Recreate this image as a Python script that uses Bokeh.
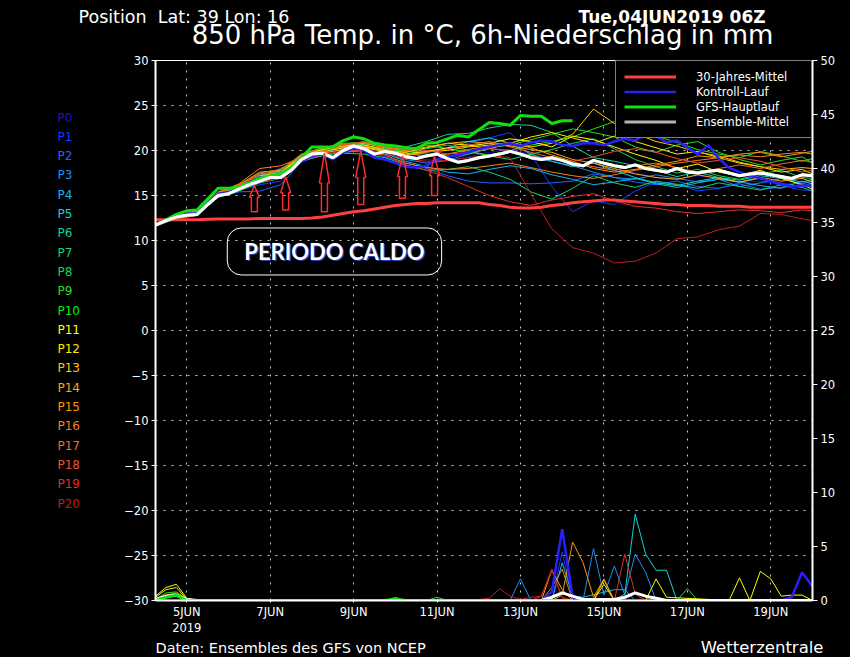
import numpy as np
from bokeh.plotting import figure
from bokeh.layouts import column, row
from bokeh.models import Range1d, LinearAxis, FixedTicker, Label, Legend, LegendItem
from bokeh.core.properties import value
from bokeh.embed import file_html
from bokeh.resources import INLINE

FONT = "DejaVu Sans"

# ---------------- axis ticks / labels ----------------
date_ticks = [5, 7, 9, 11, 13, 15, 17, 19]
date_labels = ["5JUN\n2019", "7JUN", "9JUN", "11JUN", "13JUN", "15JUN", "17JUN", "19JUN"]
temp_ticks = list(range(-30, 31, 5))
precip_ticks = list(range(0, 51, 5))

# time axes: days of June 2019, from 04JUN 06Z
t6 = 4.25 + 0.25 * np.arange(64)
t12 = np.append(4.25 + 0.5 * np.arange(32), 20.0)

# ---------------- 850 hPa temperature (degC) ----------------
clim = [12.3,12.3,12.3,12.3,12.3,12.35,12.4,12.4,12.4,12.4,
        12.45,12.45,12.45,12.45,12.45,12.5,12.6,12.8,13.0,13.2,
        13.3,13.5,13.7,13.9,14.0,14.1,14.1,14.2,14.2,14.2,
        14.2,14.2,14.0,13.9,13.7,13.6,13.6,13.7,13.9,14.0,
        14.2,14.3,14.4,14.5,14.5,14.4,14.3,14.2,14.1,14.0,
        14.0,13.9,13.9,13.9,13.8,13.8,13.8,13.7,13.7,13.7,
        13.7,13.7,13.7,13.7]
ens_mean = [11.7,12.2,12.6,12.8,12.9,14.0,15.0,15.2,15.7,16.2,
            16.6,17.0,17.0,17.8,19.0,19.6,19.7,19.2,20.0,20.5,
            20.2,19.6,19.9,19.7,19.3,19.1,19.4,19.6,19.1,18.7,
            18.9,19.2,19.4,19.6,19.9,19.6,19.2,19.0,19.2,18.9,
            18.5,18.3,18.9,18.6,18.3,18.1,18.4,18.0,17.8,17.6,
            18.0,17.6,17.5,17.7,17.8,17.5,17.2,17.4,17.5,17.3,
            17.1,16.9,17.3,17.2]
control = [11.8,12.3,12.7,13.0,13.0,14.2,15.2,15.4,15.8,16.5,
           17.0,16.9,17.4,17.8,18.8,19.4,19.6,19.0,19.8,20.3,
           20.0,19.2,19.0,18.6,18.2,18.1,18.3,19.0,19.3,19.5,
           19.8,20.2,20.4,20.6,20.8,20.5,20.9,21.1,21.0,20.6,
           20.5,20.8,20.8,20.6,21.0,21.3,21.1,21.9,21.6,20.9,
           21.1,20.3,19.6,20.6,19.1,18.1,17.6,17.2,16.9,16.6,
           16.3,16.0,16.1,16.1]
gfs_main = [11.7,12.3,12.9,13.3,13.4,14.6,15.8,15.8,15.9,16.4,
            16.9,17.2,17.4,18.1,19.2,20.4,20.4,20.4,21.1,21.5,
            21.3,20.8,20.6,20.5,20.3,20.2,20.8,20.9,21.3,21.7,
            21.5,22.3,23.1,23.0,22.8,23.9,23.8,23.8,23.0,23.3,
            23.3]

# ensemble members P0..P20, 12-hourly
p00 = [11.8,12.5,12.8,15.0,15.8,16.7,17.2,19.1,19.8,20.2,20.3,19.6,19.2,19.0,18.8,19.3,19.8,20.1,19.6,19.0,18.6,18.2,17.8,17.5,17.0,16.8,17.2,16.9,16.4,16.6,16.2,16.5,16.6]
p01 = [11.6,12.7,13.0,15.1,15.6,16.2,16.6,19.0,19.5,19.9,20.4,19.8,19.3,19.5,20.1,20.8,21.4,22.0,19.5,16.0,13.2,14.4,14.0,15.5,16.5,16.3,15.5,15.8,16.4,17.0,16.1,15.6,15.6]
p02 = [11.7,12.5,12.8,14.8,15.4,15.5,16.2,18.7,19.6,19.8,20.0,19.3,18.6,18.0,17.2,16.6,16.4,16.4,16.3,16.4,16.6,17.4,17.0,16.5,16.2,16.6,16.0,15.8,16.3,15.7,15.9,16.2,16.0]
p03 = [11.6,12.6,13.0,15.1,15.9,17.3,17.6,19.2,19.6,19.8,20.0,19.6,19.0,18.6,18.9,19.6,20.2,20.0,19.2,18.8,18.3,17.6,17.0,16.8,17.3,16.9,16.5,16.8,16.0,16.4,16.9,16.3,16.6]
p04 = [11.8,12.6,12.9,14.9,15.6,16.9,17.8,18.9,19.4,19.9,20.1,19.7,18.8,18.2,17.6,17.4,17.9,18.3,18.0,17.3,16.8,16.2,16.5,16.9,16.3,15.9,16.4,16.8,16.5,16.1,15.8,16.6,16.3]
p05 = [11.7,12.6,13.1,15.2,15.8,17.0,18.0,19.1,19.6,20.1,20.4,19.9,19.4,19.8,20.3,21.0,21.4,20.8,19.6,18.8,18.2,18.6,17.8,17.0,16.4,16.1,16.6,17.0,16.7,17.2,16.9,16.5,16.8]
p06 = [11.7,12.5,12.9,15.1,15.8,16.8,17.3,19.3,20.1,20.5,20.7,20.6,20.4,21.0,21.8,21.9,22.5,22.9,22.8,22.0,20.5,19.2,18.8,18.3,17.8,17.1,17.6,17.0,16.5,16.9,16.3,16.0,16.4]
p07 = [11.6,12.4,12.8,14.8,15.5,16.4,16.9,18.8,19.5,19.7,19.6,19.2,18.4,17.8,17.9,18.2,17.6,16.8,15.4,14.6,15.8,17.2,16.4,15.9,16.6,16.2,15.8,16.4,16.0,15.6,16.2,15.9,15.5]
p08 = [11.8,12.7,13.0,15.2,16.0,17.1,17.4,19.4,20.0,20.4,20.3,20.0,19.8,20.2,20.6,20.0,19.4,19.0,19.6,20.1,20.8,21.3,20.2,19.0,18.2,17.5,17.9,17.2,16.8,17.4,17.8,17.0,16.9]
p09 = [11.7,12.6,12.9,15.0,15.7,16.7,17.0,19.1,19.8,20.3,20.6,20.2,19.9,19.6,19.4,19.6,20.3,20.6,21.2,21.8,22.4,22.0,21.5,20.4,19.8,20.6,21.0,19.8,19.0,18.4,18.9,19.3,18.6]
p10 = [11.8,12.7,13.1,15.2,15.9,16.9,17.4,19.5,20.2,20.8,20.9,20.4,20.1,20.6,20.2,19.8,19.5,20.0,20.6,21.0,21.5,22.4,23.2,22.0,21.6,20.9,20.1,19.6,19.2,19.9,19.4,18.8,19.1]
p11 = [11.9,12.8,13.2,15.3,16.0,17.0,17.5,19.4,20.1,20.5,20.6,20.1,19.6,19.9,20.3,20.5,20.8,21.3,21.0,20.4,21.6,21.2,20.4,19.6,18.9,18.0,18.5,17.6,17.2,17.8,16.9,16.2,15.7]
p12 = [11.8,12.7,13.0,15.1,15.9,16.9,17.3,19.3,19.9,20.3,20.4,20.0,19.8,20.3,20.8,20.6,20.2,20.8,21.5,22.0,21.4,20.8,21.6,21.0,20.3,19.6,19.9,19.2,18.6,18.2,17.6,17.9,17.4]
p13 = [11.7,12.6,12.9,15.0,15.8,17.2,17.5,19.0,19.7,20.1,20.3,19.9,19.5,19.9,20.0,20.4,20.6,20.9,20.4,20.8,21.8,24.6,23.0,21.9,21.0,20.5,19.8,19.4,18.7,18.2,17.9,18.1,18.0]
p14 = [11.9,12.8,13.3,15.4,16.2,17.6,17.8,19.6,20.3,20.6,20.8,20.3,20.0,20.4,20.8,21.0,20.8,20.5,20.1,19.8,19.0,18.6,18.0,17.4,17.0,16.8,17.3,16.9,16.5,17.0,16.6,16.9,16.5]
p15 = [11.8,12.7,13.1,15.3,16.0,17.4,17.7,19.4,20.0,20.4,20.5,20.1,19.7,19.4,19.6,20.1,20.5,20.9,20.3,19.5,18.8,18.0,17.6,17.9,18.4,18.8,19.4,19.2,19.6,19.8,19.3,19.7,19.9]
p16 = [11.7,12.5,12.8,15.3,16.3,18.0,18.3,19.2,19.6,19.9,20.0,19.5,18.6,18.1,17.9,18.0,18.3,18.6,18.1,17.6,17.2,16.9,17.3,17.8,18.2,18.6,18.9,19.2,19.5,19.3,19.6,19.8,19.6]
p17 = [11.8,12.6,13.0,15.2,16.1,17.5,17.9,19.5,20.3,20.7,20.9,20.4,20.0,19.8,20.2,20.6,21.0,20.4,19.8,19.2,18.6,18.2,17.8,18.3,18.6,18.1,17.6,18.0,18.4,18.0,18.5,18.9,18.7]
p18 = [11.7,12.6,12.9,15.0,15.7,16.8,17.2,19.2,19.9,20.6,21.0,20.5,20.2,20.0,19.6,19.8,20.2,20.0,19.4,19.0,18.8,19.3,19.9,20.2,19.8,19.1,18.6,18.9,19.2,18.8,18.2,17.6,17.8]
p19 = [11.6,12.5,12.8,14.9,15.6,16.6,17.0,18.9,19.5,19.9,20.1,19.5,18.4,17.8,17.0,16.0,15.0,14.3,13.9,14.5,14.9,15.2,14.4,13.8,13.6,13.2,13.0,13.2,13.4,13.3,13.1,13.4,13.3]
p20 = [11.7,12.6,12.9,15.0,15.6,16.5,16.9,19.0,19.6,20.0,20.2,19.7,19.1,18.8,18.9,19.2,19.5,19.2,15.2,11.3,9.2,8.6,7.5,7.7,8.6,10.2,10.4,11.2,11.6,13.0,12.9,12.4,12.2]
members = [p00, p01, p02, p03, p04, p05, p06, p07, p08, p09, p10,
           p11, p12, p13, p14, p15, p16, p17, p18, p19, p20]
member_names = ["P%d" % i for i in range(21)]
member_colors = ["#1a14d2", "#143cff", "#1e64ff", "#1e8cf0", "#14b4f0", "#14d2d2", "#14d296",
                 "#14d26e", "#1ed250", "#28dc28", "#14e614", "#ffff00", "#ffe600", "#ffc800",
                 "#ffaa00", "#ff9600", "#f5821e", "#eb6e28", "#f05032", "#dc3228", "#be1e1e"]

# ---------------- 6h precipitation (mm), non-zero episodes ----------------
rr_mean_t = [4.25, 4.5, 4.75, 5.0, 5.25, 13.5, 13.75, 14.0, 14.25, 14.5, 15.25, 15.5, 15.75, 16.0, 16.25, 16.5, 20.0]
rr_mean_v = [0.1, 0.4, 0.5, 0.1, 0.0, 0.0, 0.3, 0.7, 0.4, 0.1, 0.1, 0.3, 0.7, 0.4, 0.2, 0.0, 0.0]
rr_ctrl_t = [4.25, 13.5, 13.75, 14.0, 14.25, 14.5, 19.25, 19.5, 19.75, 20.0]
rr_ctrl_v = [0.0, 0.0, 0.8, 6.6, 0.3, 0.0, 0.0, 0.3, 2.6, 1.3]
rr_gfs_t = [4.25, 4.5, 4.75, 5.0, 9.75, 10.0, 10.25, 14.25]
rr_gfs_v = [0.0, 0.3, 0.5, 0.0, 0.0, 0.1, 0.0, 0.0]
rr_members = {
    1: ([13.75, 14.0, 14.25], [0.0, 4.5, 0.0]),
    3: ([12.75, 13.0, 13.25, 14.5, 14.75, 15.0, 15.25, 15.5, 15.75, 16.0, 16.25],
        [0.0, 2.0, 0.0, 0.0, 4.8, 0.5, 3.2, 0.5, 4.3, 2.6, 0.0]),
    4: ([13.75, 14.0, 14.25, 14.5, 15.25, 15.5, 15.75], [0.0, 3.5, 0.4, 0.3, 1.0, 1.0, 0.0]),
    5: ([15.25, 15.5, 15.75, 16.0, 16.25, 16.5, 16.75], [0.0, 0.6, 8.0, 4.3, 2.8, 2.8, 0.0]),
    8: ([16.75, 17.0, 17.25], [0.0, 1.1, 0.0]),
    9: ([4.25, 4.5, 4.75, 5.0, 9.75, 10.0, 10.25, 10.75, 11.0, 11.25],
        [0.1, 0.7, 0.8, 0.1, 0.0, 0.3, 0.0, 0.0, 0.3, 0.0]),
    11: ([4.25, 4.5, 4.75, 5.0, 5.25, 16.0, 16.25, 16.5, 18.0, 18.25, 18.5, 18.75, 19.0, 19.25, 19.5, 19.75, 20.0],
         [0.4, 1.2, 1.5, 0.2, 0.0, 0.0, 2.0, 0.3, 0.0, 2.1, 0.0, 2.7, 2.0, 0.4, 0.5, 0.5, 0.0]),
    12: ([4.25, 4.5, 4.75, 5.0, 5.25, 14.75, 15.0, 15.25], [0.3, 1.0, 1.2, 0.1, 0.0, 0.0, 1.5, 0.0]),
    13: ([14.75, 15.0, 15.25], [0.0, 1.9, 0.0]),
    14: ([13.5, 13.75, 14.0, 14.25], [0.0, 2.8, 1.0, 0.0]),
    15: ([4.25, 4.5, 4.75, 5.0, 13.75, 14.0, 14.25, 14.5, 14.75, 15.0, 15.25],
         [0.1, 0.5, 0.7, 0.0, 0.0, 0.5, 5.4, 3.5, 0.3, 2.0, 0.0]),
    16: ([13.5, 13.75, 14.0, 14.25], [0.0, 1.2, 2.9, 0.0]),
    18: ([4.25, 4.5, 4.75, 5.0], [0.1, 0.5, 0.5, 0.0]),
    19: ([13.25, 13.5, 13.75, 14.0, 14.25, 15.25, 15.5, 15.75, 16.0],
         [0.0, 0.4, 2.9, 0.3, 0.0, 0.0, 4.3, 0.6, 0.0]),
    20: ([4.25, 4.5, 4.75, 5.0, 11.75, 12.0, 12.25, 12.5, 12.75, 13.0, 13.25, 13.5, 13.75, 14.0, 14.25],
         [0.1, 0.4, 0.4, 0.0, 0.0, 0.1, 0.2, 1.1, 0.4, 0.1, 0.3, 0.4, 2.8, 0.2, 0.0]),
}

# ---------------- hand-drawn annotation arrows (day, degC) ----------------
arrow_x = [6.62, 7.37, 8.30, 9.17, 10.17, 10.94]
arrow_tip = [16.1, 17.1, 19.7, 20.0, 19.4, 19.4]
arrow_head = [14.8, 15.3, 16.4, 17.0, 17.1, 17.2]
arrow_base = [13.2, 13.4, 13.2, 14.0, 14.7, 15.0]

for s in members:
    assert len(s) == len(t12)
assert len(clim) == len(ens_mean) == len(control) == len(t6)

# ---------------- page geometry ----------------
W, H = 850, 657
TOP_H = 50            # title strip
LEFT_W = 120          # member-label strip
BOT_H = 19            # footer strip
MID_H = H - TOP_H - BOT_H
MAIN_W = W - LEFT_W
# main frame in page px: x 155..812, y 60..600


def strip(w, h, yr):
    f = figure(width=w, height=h, x_range=Range1d(0, w), y_range=yr,
               output_backend="svg", toolbar_location=None,
               x_axis_location=None, y_axis_location=None,
               background_fill_color="black", border_fill_color="black",
               min_border=0, outline_line_color=None)
    f.grid.visible = False
    return f

# ---------------- main figure ----------------
p = figure(width=MAIN_W, height=MID_H, x_range=Range1d(4.25, 20.0), y_range=Range1d(-30, 30),
           output_backend="svg", toolbar_location=None,
           background_fill_color="black", border_fill_color="black",
           min_border_left=155 - LEFT_W, min_border_right=W - 812,
           min_border_top=60 - TOP_H, min_border_bottom=(TOP_H + MID_H) - 600,
           outline_line_color="white", outline_line_width=1)
p.extra_y_ranges = {"rr": Range1d(0, 50)}

grid_col = "#c8c8c8"
p.xgrid.ticker = FixedTicker(ticks=date_ticks)
p.ygrid.ticker = FixedTicker(ticks=temp_ticks)
for g in (p.xgrid, p.ygrid):
    g.grid_line_color = grid_col
    g.grid_line_dash = "2 6"
    g.grid_line_width = 1

def style_axis(ax, tick_out, standoff=3):
    ax.axis_line_color = "white"
    ax.axis_line_width = 2
    ax.major_tick_line_color = "white"
    ax.major_tick_out = tick_out
    ax.major_tick_in = 0
    ax.minor_tick_line_color = None
    ax.major_label_text_color = "white"
    ax.major_label_text_font = FONT
    ax.major_label_text_font_size = "11.5px"
    ax.major_label_standoff = standoff

xa = p.xaxis[0]
xa.ticker = FixedTicker(ticks=date_ticks)
xa.major_label_overrides = {t: l for t, l in zip(date_ticks, date_labels)}
style_axis(xa, 2, standoff=2)

ya = p.yaxis[0]
ya.ticker = FixedTicker(ticks=temp_ticks)
ya.major_label_overrides = {t: str(t).replace("-", "\u2212") for t in temp_ticks}
style_axis(ya, 4)

ra = LinearAxis(y_range_name="rr", ticker=FixedTicker(ticks=precip_ticks))
style_axis(ra, 5)
p.add_layout(ra, "right")

# ---------------- temperature lines ----------------
for s, c in zip(members, member_colors):
    p.line(t12, s, line_color=c, line_width=1)
r_clim = p.line(t6, clim, line_color="#ff4040", line_width=3)
r_ctrl = p.line(t6, control, line_color="#2a1eff", line_width=2.5)
r_gfs = p.line(t6[:len(gfs_main)], gfs_main, line_color="#10e010", line_width=3)
r_mean_key = p.line(t6, ens_mean, line_color="#b4b4b4", line_width=3)   # legend key (hidden below)
p.line(t6, ens_mean, line_color="white", line_width=3)

# ---------------- precipitation lines ----------------
for i, (tt, vv) in rr_members.items():
    p.line(tt, vv, line_color=member_colors[i], line_width=1, y_range_name="rr")
p.line(rr_ctrl_t, rr_ctrl_v, line_color="#2a1eff", line_width=2.5, y_range_name="rr")
p.line(rr_mean_t, rr_mean_v, line_color="white", line_width=3, y_range_name="rr")
p.line(rr_gfs_t, rr_gfs_v, line_color="#10e010", line_width=3, y_range_name="rr")

# ---------------- arrows ----------------
hs, hh = 0.072, 0.12
axs, ays = [], []
for x, tip, hd, b in zip(arrow_x, arrow_tip, arrow_head, arrow_base):
    axs.append([x - hs, x - hs, x - hh, x, x + hh, x + hs, x + hs])
    ays.append([b, hd, hd, tip, hd, hd, b])
p.patches(axs, ays, fill_color=None, line_color="#ff2a2a", line_width=1.5)

# ---------------- legend ----------------
legend = Legend(items=[LegendItem(label="30-Jahres-Mittel", renderers=[r_clim]),
                       LegendItem(label="Kontroll-Lauf", renderers=[r_ctrl]),
                       LegendItem(label="GFS-Hauptlauf", renderers=[r_gfs]),
                       LegendItem(label="Ensemble-Mittel", renderers=[r_mean_key])],
                location="top_right", margin=0, padding=8, spacing=0,
                glyph_width=52, glyph_height=15, label_height=15, label_standoff=20,
                label_width=107,
                border_line_color="white", border_line_width=1,
                background_fill_color="black", background_fill_alpha=1.0,
                label_text_color="white", label_text_font=FONT, label_text_font_size="11.5px")
p.add_layout(legend)

# PERIODO CALDO box
p.add_layout(Label(x=8.54, y=8.78, text="PERIODO CALDO", text_color="#2a3cb4",
                   text_font="Lato", text_font_size="22px", text_font_style="bold",
                   text_align="center", text_baseline="middle", x_offset=1.5, y_offset=-1.5))
p.add_layout(Label(x=8.54, y=8.78, text="PERIODO CALDO", text_color="white",
                   text_font="Lato", text_font_size="22px", text_font_style="bold",
                   text_align="center", text_baseline="middle",
                   border_line_color="white", border_line_width=1,
                   border_radius=14, padding=(17, 10)))

# ---------------- title strip (page px) ----------------
top = strip(W, TOP_H, Range1d(TOP_H, 0))
top.text(x=[78], y=[16], text=["Position\u00a0 Lat: 39 Lon: 16"], text_color="white",
         text_font=value(FONT), text_font_size="17.5px", text_baseline="middle", text_align="left")
top.text(x=[578], y=[16], text=["Tue,04JUN2019 06Z"], text_color="white",
         text_font=value(FONT), text_font_size="17px", text_font_style="bold",
         text_baseline="middle", text_align="left")
top.text(x=[482], y=[34], text=["850 hPa Temp. in \u00b0C, 6h-Niederschlag in mm"], text_color="white",
         text_font=value(FONT), text_font_size="26px", text_baseline="middle", text_align="center")

# ---------------- member label strip (its frame is aligned with the main frame: page y 60..600) ----
left = strip(LEFT_W, MID_H, Range1d(600, 60))
left.text(x=[57] * 21, y=[117 + 19.3 * i for i in range(21)], text=member_names,
          text_color=member_colors, text_font=value(FONT), text_font_size="12px",
          text_baseline="middle", text_align="left")

# ---------------- footer strip ----------------
bot = strip(W, BOT_H, Range1d(BOT_H, 0))
bot.text(x=[155], y=[9.5], text=["Daten: Ensembles des GFS von NCEP"], text_color="white",
         text_font=value(FONT), text_font_size="14.5px", text_baseline="middle", text_align="left")
bot.text(x=[823], y=[9], text=["Wetterzentrale"], text_color="white",
         text_font=value(FONT), text_font_size="16.5px", text_baseline="middle", text_align="right")

black = {"background-color": "black"}
layout = column(top, row(left, p, spacing=0, styles=black), bot, spacing=0, styles=black)
open("out.html", "w").write(file_html(layout, INLINE))
